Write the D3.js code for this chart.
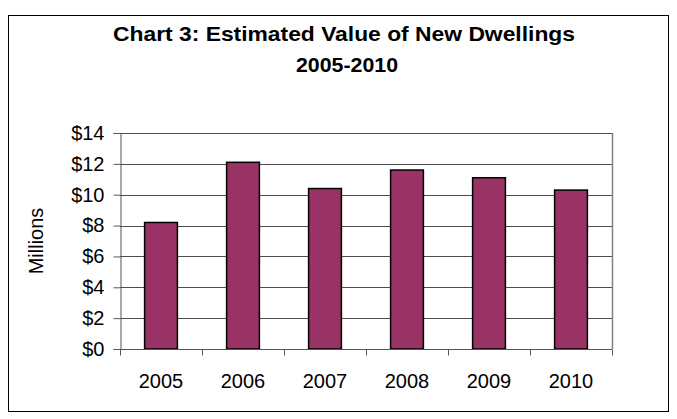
<!DOCTYPE html>
<html><head><meta charset="utf-8">
<script src="https://cdn.jsdelivr.net/npm/d3@7"></script>
<style>body{margin:0;background:#fff}svg{display:block}text{font-family:"Liberation Sans",Arial,sans-serif}</style>
</head><body>
<script>
const categories = ["2005","2006","2007","2008","2009","2010"];
const values = [8.2, 12.1, 10.4, 11.6, 11.1, 10.3];
const yTicks = [0,2,4,6,8,10,12,14];
const titleLines = ["Chart 3:  Estimated Value of New Dwellings","2005-2010"];
const yLabel = "Millions";

const W=677,H=419;
const svg=d3.select("body").append("svg").attr("width",W).attr("height",H);
svg.append("rect").attr("x",8.5).attr("y",15.5).attr("width",660).attr("height",396)
  .attr("fill","#fff").attr("stroke","#000").attr("stroke-width",1);

const m={l:120,r:612,t:133,b:349};
const x=d3.scaleBand().domain(categories).range([m.l,m.r]).paddingInner(0.6).paddingOuter(0.3);
const y=d3.scaleLinear().domain([0,14]).range([m.b,m.t]);

// gridlines
svg.append("g").selectAll("line").data(yTicks.filter(d=>d>0)).join("line")
  .attr("x1",m.l).attr("x2",m.r).attr("y1",d=>Math.round(y(d))+0.5).attr("y2",d=>Math.round(y(d))+0.5)
  .attr("stroke","#4d4d4d").attr("stroke-width",1);
// right border
svg.append("line").attr("x1",m.r+0.5).attr("x2",m.r+0.5).attr("y1",m.t).attr("y2",m.b)
  .attr("stroke","#808080").attr("stroke-width",1.5);

// bars
svg.append("g").selectAll("rect").data(values).join("rect")
  .attr("x",(d,i)=>x(categories[i])).attr("width",x.bandwidth())
  .attr("y",d=>y(d)).attr("height",d=>y(0)-y(d))
  .attr("fill","#993366").attr("stroke","#000").attr("stroke-width",1.5);

// y axis
const ya=svg.append("g").attr("transform",`translate(${m.l+0.5},0)`)
  .call(d3.axisLeft(y).tickValues(yTicks).tickSize(7).tickPadding(9).tickFormat(d=>"$"+d));
ya.select(".domain").attr("stroke","#555");
ya.selectAll(".tick line").attr("stroke","#555");
ya.selectAll("text").attr("font-size",20).attr("fill","#000").attr("font-family","Liberation Sans, Arial, sans-serif");

// x axis with boundary ticks
const xa=svg.append("g").attr("transform",`translate(0,${m.b+0.5})`);
xa.append("line").attr("x1",m.l).attr("x2",m.r).attr("stroke","#555");
const bounds=d3.range(categories.length+1).map(i=>m.l+i*(m.r-m.l)/categories.length);
xa.selectAll(".bt").data(bounds).join("line").attr("class","bt")
  .attr("x1",d=>Math.round(d)+0.5).attr("x2",d=>Math.round(d)+0.5).attr("y1",0).attr("y2",6).attr("stroke","#555");
xa.selectAll(".xl").data(categories).join("text").attr("class","xl")
  .attr("x",d=>x(d)+x.bandwidth()/2).attr("y",38).attr("text-anchor","middle")
  .attr("font-size",20).text(d=>d);

// y label
svg.append("text").attr("transform",`translate(43,${(m.t+m.b)/2}) rotate(-90)`)
  .attr("text-anchor","middle").attr("font-size",20).text(yLabel);

// title
svg.append("text").attr("x",344).attr("y",41).attr("text-anchor","middle")
  .attr("font-size",21).attr("font-weight","bold").attr("textLength",462).attr("lengthAdjust","spacingAndGlyphs").text(titleLines[0]);
svg.append("text").attr("x",347).attr("y",71.5).attr("text-anchor","middle")
  .attr("font-size",21).attr("font-weight","bold").attr("textLength",102).attr("lengthAdjust","spacingAndGlyphs").text(titleLines[1]);
</script>
</body></html>
